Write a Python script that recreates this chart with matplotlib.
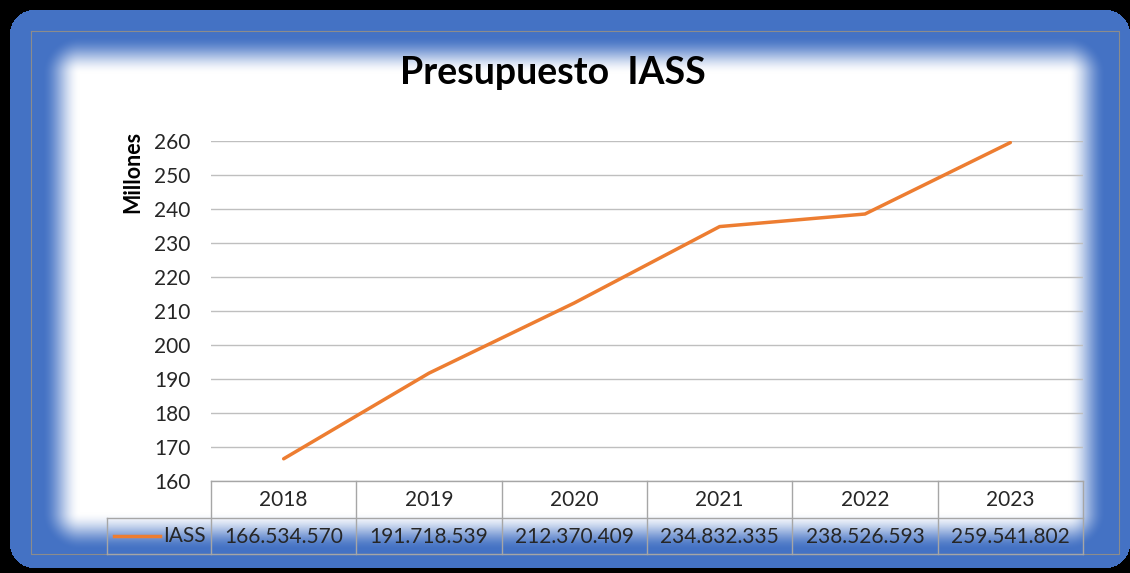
import numpy as np
import matplotlib.pyplot as plt

W, H = 1130, 573

years = ["2018", "2019", "2020", "2021", "2022", "2023"]
iass = [166.534570, 191.718539, 212.370409, 234.832335, 238.526593, 259.541802]
iass_labels = ["166.534.570", "191.718.539", "212.370.409",
               "234.832.335", "238.526.593", "259.541.802"]
yticks = [160, 170, 180, 190, 200, 210, 220, 230, 240, 250, 260]

FONT = "Lato"
orange = "#ED7D31"
blue = np.array([68, 114, 196]) / 255.0
grid_col = "#BFBFBF"
table_col = "#A6A6A6"
text_col = "#262626"
FS = 15

plt.rcParams['font.family'] = [FONT, 'DejaVu Sans']

fig = plt.figure(figsize=(W / 100, H / 100), dpi=100, facecolor="black")


def px(x, y):
    # pixel coords (from top-left) to figure fraction
    return x / W, 1 - y / H


# --- background: rounded blue frame with soft white interior ---
bg = fig.add_axes([0, 0, 1, 1])
bg.set_axis_off()
xx, yy = np.meshgrid(np.arange(W) + 0.5, np.arange(H) + 0.5)

# outer rounded rectangle
x0, x1, y0, y1, r = 10, 1130, 10, 568, 24
ddx = np.maximum.reduce([x0 + r - xx, np.zeros_like(xx), xx - (x1 - r)])
ddy = np.maximum.reduce([y0 + r - yy, np.zeros_like(yy), yy - (y1 - r)])
inside = (ddx ** 2 + ddy ** 2) <= r ** 2

# soft white centre
xi0, xi1, yi0, yi1, fade = 80, 1068, 74, 512, 38
dx = np.maximum.reduce([xi0 - xx, np.zeros_like(xx), xx - xi1])
dy = np.maximum.reduce([yi0 - yy, np.zeros_like(yy), yy - yi1])
d = np.sqrt(dx ** 2 + dy ** 2)
w = np.clip(1 - d / fade, 0, 1)
w = w * w * (3 - 2 * w)

img = blue[None, None, :] * (1 - w[..., None]) + w[..., None]
img[~inside] = 0
bg.imshow(img, extent=(0, W, H, 0), interpolation="bilinear")
bg.set_xlim(0, W)
bg.set_ylim(H, 0)
# thin grey border of the chart area
bg.plot([31, 1119, 1119, 31, 31], [31, 31, 554, 554, 31], color="#8C8C8C", lw=0.8)

# --- main plot area ---
L, R, T, B = 211, 1083, 141, 481
ax = fig.add_axes([L / W, 1 - B / H, (R - L) / W, (B - T) / H])
ax.patch.set_alpha(0)
xs = np.arange(len(years))
ax.plot(xs, iass, color=orange, lw=2.5, solid_capstyle="round", zorder=3)
ax.set_xlim(-0.5, len(years) - 0.5)
ax.set_ylim(160, 260)
ax.set_yticks(yticks)
ax.set_yticklabels([str(v) for v in yticks], fontsize=FS, color=text_col)
ax.set_xticks([])
ax.tick_params(axis="y", length=0, pad=15)
ax.grid(True, axis="y", color=grid_col, lw=1)
for s in ax.spines.values():
    s.set_visible(False)

# --- data table under the plot ---
tb_top, tb_mid, tb_bot, leg_left = 481, 518, 554, 107
colw = (R - L) / len(years)
tax = fig.add_axes([0, 0, 1, 1])
tax.set_axis_off()
tax.patch.set_alpha(0)
tax.set_xlim(0, W)
tax.set_ylim(H, 0)
# horizontal lines
tax.plot([L, R], [tb_top, tb_top], color=table_col, lw=1)
tax.plot([leg_left, R], [tb_mid, tb_mid], color=table_col, lw=1)
tax.plot([leg_left, R], [tb_bot, tb_bot], color=table_col, lw=1)
# vertical lines
tax.plot([leg_left, leg_left], [tb_mid, tb_bot], color=table_col, lw=1)
for i in range(len(years) + 1):
    xv = L + i * colw
    tax.plot([xv, xv], [tb_top, tb_bot], color=table_col, lw=1)
for i, (yr, lab) in enumerate(zip(years, iass_labels)):
    cx = L + (i + 0.5) * colw
    tax.text(cx, (tb_top + tb_mid) / 2 + 1, yr, ha="center", va="center",
             fontsize=FS, color=text_col)
    tax.text(cx, (tb_mid + tb_bot) / 2 + 1, lab, ha="center", va="center",
             fontsize=FS, color=text_col)
# legend key in the table
tax.plot([114, 160], [536, 536], color=orange, lw=2.5)
tax.text(163, 536, "IASS", ha="left", va="center", fontsize=FS, color=text_col)

# --- titles ---
fig.text(*px(553, 73), "Presupuesto  IASS", ha="center", va="center",
         fontsize=27, fontweight="bold", color="black")
fig.text(*px(133, 172), "Millones", ha="center", va="center", rotation=90,
         fontsize=15.5, fontweight="bold", color="black")

fig.savefig("out.png", dpi=100, facecolor="black")
